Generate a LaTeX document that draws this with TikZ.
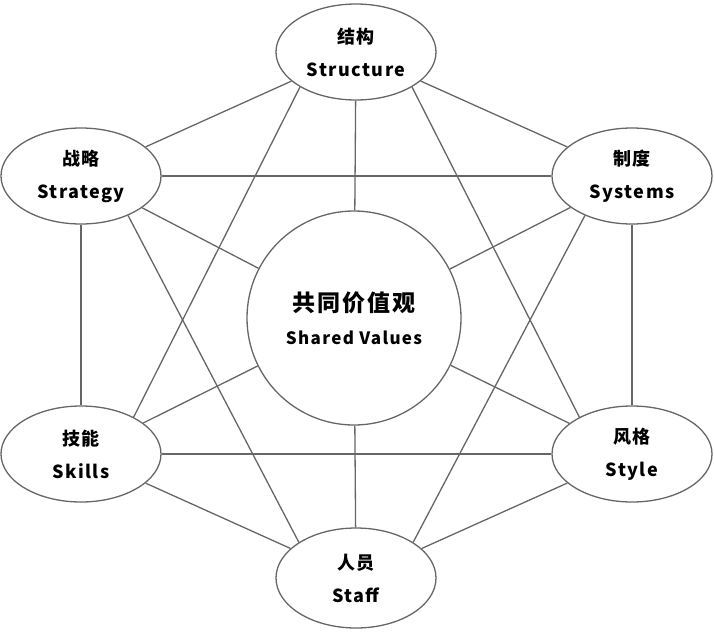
\documentclass[tikz,border=0pt]{standalone}
\usepackage{fontspec}
\setmainfont{Noto Sans CJK SC}[LetterSpace=8]
\usetikzlibrary{shapes.geometric}
\begin{document}
\begin{tikzpicture}[x=1pt,y=-1pt,
  ov/.style={ellipse,draw=black!60,line width=1.3pt,minimum width=160pt,minimum height=96pt,align=center,font=\fontsize{18}{33}\selectfont\bfseries},
  ln/.style={draw=black!60,line width=1.3pt}]
\useasboundingbox (0,0) rectangle (714,632);
\node[ov] (st) at (356,52) {结构\\Structure};
\node[ov] (sg) at (81,176) {战略\\Strategy};
\node[ov] (sy) at (632,176) {制度\\Systems};
\node[ov] (sk) at (81,454) {技能\\Skills};
\node[ov] (sl) at (632,454) {风格\\Style};
\node[ov,minimum height=100pt] (sf) at (356,578) {人员\\Staff};
\node[circle,draw=black!60,line width=1.3pt,minimum size=214pt,align=center] (c) at (354,318)
  {{\fontsize{23}{40}\selectfont\bfseries 共同价值观}\\[16pt]{\fontsize{17}{24}\selectfont\bfseries Shared Values}};
\foreach \a/\b in {st/sg,st/sy,sg/sk,sy/sl,sk/sf,sl/sf,sg/sy,sk/sl,c/st,c/sg,c/sy,c/sk,c/sl,c/sf}
  \draw[ln] (\a) -- (\b);
\draw[ln] (st.-148) -- (sk.35);
\draw[ln] (st.-32) -- (sl.145);
\draw[ln] (sg.-40) -- (sf.148);
\draw[ln] (sy.-140) -- (sf.32);
\end{tikzpicture}
\end{document}
